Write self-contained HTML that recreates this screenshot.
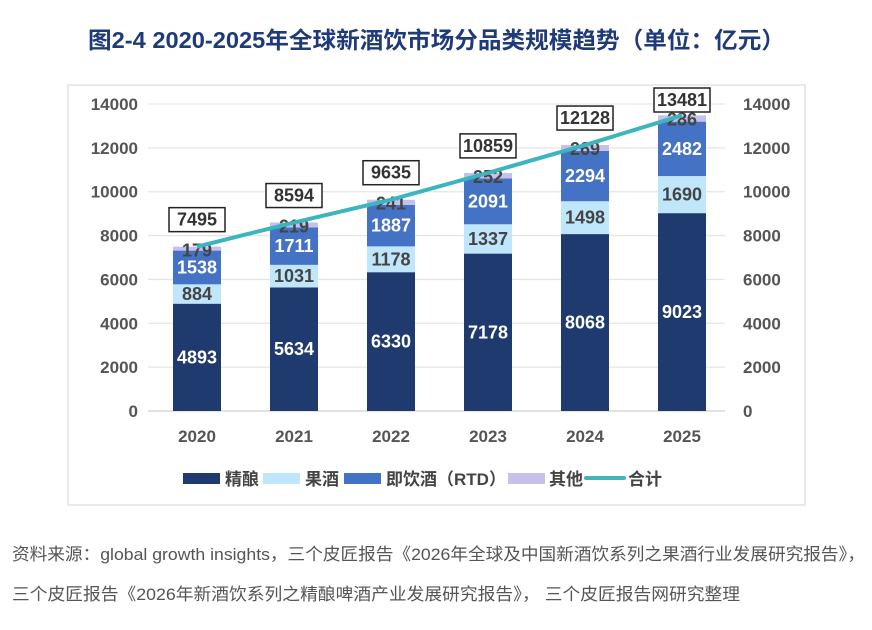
<!DOCTYPE html>
<html><head><meta charset="utf-8"><style>
body{margin:0;background:#fff;width:872px;height:625px;overflow:hidden;font-family:"Liberation Sans","Noto Sans CJK SC",sans-serif}
</style></head><body>
<svg width="872" height="625" xmlns="http://www.w3.org/2000/svg" font-family="Liberation Sans, Noto Sans CJK SC, sans-serif">
<text x="88" y="48" textLength="697" lengthAdjust="spacingAndGlyphs" font-size="23" font-weight="bold" fill="#1f3a78">图2-4 2020-2025年全球新酒饮市场分品类规模趋势（单位：亿元）</text>
<rect x="68" y="85" width="737" height="420" fill="none" stroke="#e3e3e3" stroke-width="1.5"/>
<g id="grid"></g><g id="bars"></g><g id="labels"></g>
<g font-size="17" font-weight="bold" fill="#444">
<rect x="183" y="473" width="37" height="11" fill="#1f3a6e"/><text x="225" y="485">精酿</text>
<rect x="263" y="473" width="37" height="11" fill="#bfe6fa"/><text x="305" y="485">果酒</text>
<rect x="344" y="473" width="37" height="11" fill="#4472c4"/><text x="386" y="485">即饮酒（RTD）</text>
<rect x="508" y="473" width="37" height="11" fill="#c5c0ec"/><text x="549" y="485">其他</text>
<line x1="586" y1="478" x2="624" y2="478" stroke="#3cb5be" stroke-width="4" stroke-linecap="round"/><text x="628" y="485">合计</text>
</g>
<text x="12" y="560" textLength="853" lengthAdjust="spacingAndGlyphs" font-size="17" fill="#555">资料来源：global growth insights，三个皮匠报告《2026年全球及中国新酒饮系列之果酒行业发展研究报告》，</text>
<text x="12" y="600" textLength="728" lengthAdjust="spacingAndGlyphs" font-size="17" fill="#555">三个皮匠报告《2026年新酒饮系列之精酿啤酒产业发展研究报告》， 三个皮匠报告网研究整理</text>
</svg>
<script>
const years=["2020","2021","2022","2023","2024","2025"];
const craft=[4893,5634,6330,7178,8068,9023];
const fruit=[884,1031,1178,1337,1498,1690];
const rtd=[1538,1711,1887,2091,2294,2482];
const other=[179,219,241,252,269,286];
const total=[7495,8594,9635,10859,12128,13481];
const ticks=[0,2000,4000,6000,8000,10000,12000,14000];
const NS="http://www.w3.org/2000/svg";
const y=v=>411-v*307/14000;
const x=i=>197+i*97;
function mk(tag,attrs,parent,txt){const e=document.createElementNS(NS,tag);for(const k in attrs)e.setAttribute(k,attrs[k]);if(txt!==undefined)e.textContent=txt;parent.appendChild(e);return e;}
const grid=document.getElementById('grid'),bars=document.getElementById('bars'),labels=document.getElementById('labels');
ticks.forEach(t=>{
 const l=mk('line',{x1:148,x2:725,y1:y(t),y2:y(t),stroke:t===0?'#d0d0d0':'#e6e6e6','stroke-width':1.3},grid);
 
 const a=mk('text',{x:138,y:y(t)+6,'text-anchor':'end','font-size':17,'font-weight':'bold',fill:'#555'},grid,t);
 
 const b=mk('text',{x:743,y:y(t)+6,'font-size':17,'font-weight':'bold',fill:'#555'},grid,t);
 
});
const series=[[craft,'#1f3a6e','#fff'],[fruit,'#bfe6fa','#444'],[rtd,'#4472c4','#fff'],[other,'#c5c0ec','#444']];
years.forEach((yr,i)=>{
 let base=0;
 series.forEach(([arr,col,tc],s)=>{
  const v=arr[i];
  const r=mk('rect',{x:x(i)-24,y:y(base+v),width:48,height:y(base)-y(base+v),fill:col},bars);
  
  const ly=s===3?y(base+v)+10:(y(base)+y(base+v))/2+6;
  const t=mk('text',{x:x(i),y:ly,'text-anchor':'middle','font-size':18,'font-weight':'bold',fill:tc},labels,v);
  
  base+=v;
 });
 const xt=mk('text',{x:x(i),y:442,'text-anchor':'middle','font-size':17,'font-weight':'bold',fill:'#555'},grid,yr);
 
});
const pts=total.map((v,i)=>x(i)+','+y(v)).join(' ');
const pl=mk('polyline',{points:pts,fill:'none',stroke:'#3cb5be','stroke-width':4},labels);

total.forEach((v,i)=>{
 const cy=Math.max(y(v)-27,100);
 const r=mk('rect',{x:x(i)-28,y:cy-12,width:56,height:24,fill:'#fff',stroke:'#222','stroke-width':1.5},labels);
 
 const t=mk('text',{x:x(i),y:cy+6,'text-anchor':'middle','font-size':18,'font-weight':'bold',fill:'#333'},labels,v);
 
});
</script>
</body></html>
